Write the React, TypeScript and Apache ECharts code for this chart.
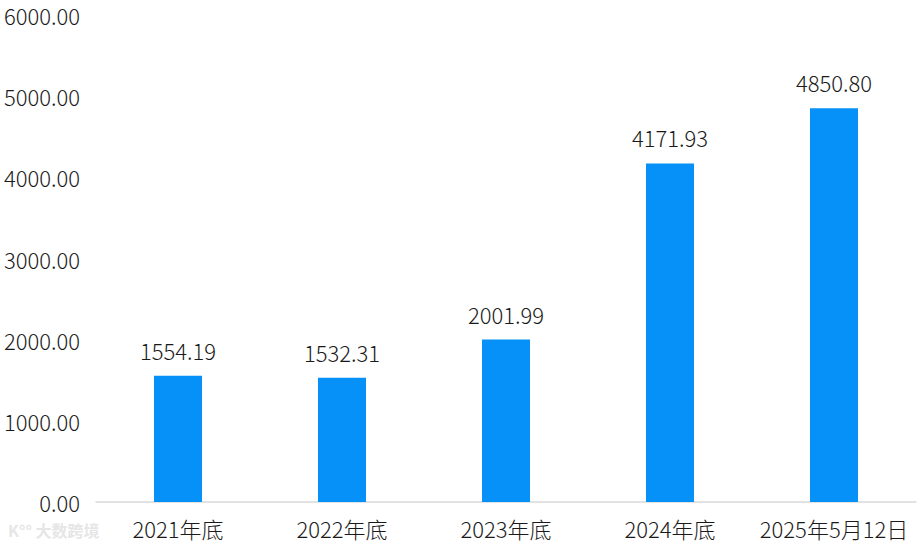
import React, { useEffect, useRef } from "react";
import * as echarts from "echarts";

const categories = ["2021年底", "2022年底", "2023年底", "2024年底", "2025年5月12日"];
const values = [1554.19, 1532.31, 2001.99, 4171.93, 4850.8];
const yTicks = [0, 1000, 2000, 3000, 4000, 5000, 6000];

export default function App() {
  const ref = useRef<HTMLDivElement>(null);
  useEffect(() => {
    if (!ref.current) return;
    const chart = echarts.init(ref.current, undefined, { renderer: "svg" });
    const font = "'Noto Sans CJK SC', 'Noto Sans', sans-serif";
    chart.setOption({
      animation: false,
      backgroundColor: "#ffffff",
      grid: { left: 96, right: 4, top: 15, bottom: 42, containLabel: false },
      xAxis: {
        type: "category",
        data: categories,
        axisLine: { show: true, lineStyle: { color: "#d9d9d9", width: 1.5 } },
        axisTick: { show: false },
        axisLabel: { interval: 0, color: "#1a1a1a", fontSize: 22, fontWeight: 300, fontFamily: font, margin: 15 },
      },
      yAxis: {
        type: "value",
        min: yTicks[0],
        max: yTicks[yTicks.length - 1],
        interval: 1000,
        splitLine: { show: false },
        axisLine: { show: false },
        axisTick: { show: false },
        axisLabel: {
          color: "#1a1a1a",
          fontSize: 22,
          lineHeight: 22,
          fontWeight: 300,
          fontFamily: font,
          margin: 16,
          formatter: (v: number) => v.toFixed(2),
        },
      },
      graphic: [
        {
          type: "text",
          left: 8,
          top: 522,
          style: {
            text: "K°° 大数跨境",
            fill: "#e6e6e6",
            font: `bold 16px ${font}`,
          },
        },
      ],
      series: [
        {
          type: "bar",
          data: values,
          barWidth: 48,
          itemStyle: { color: "#0591f7" },
          label: {
            show: true,
            position: "top",
            distance: 15,
            color: "#1a1a1a",
            fontSize: 22,
            fontWeight: 300,
            fontFamily: font,
            formatter: (p: any) => Number(p.value).toFixed(2),
          },
        },
      ],
    });
    return () => chart.dispose();
  }, []);
  return <div ref={ref} style={{ width: 920, height: 544, position: "absolute", left: 0, top: 0 }} />;
}
